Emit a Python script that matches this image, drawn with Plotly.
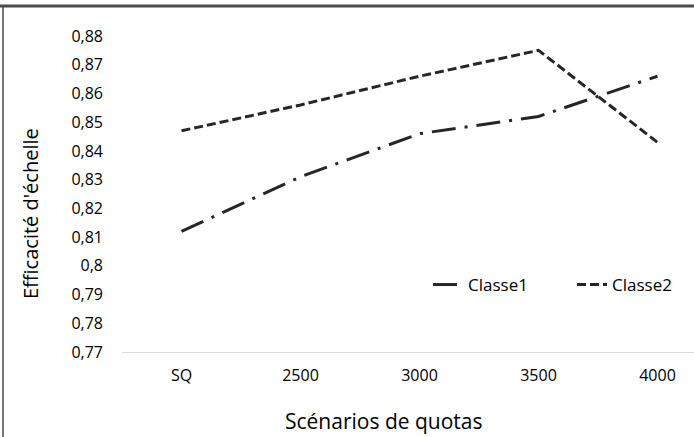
import plotly.graph_objects as go

categories = ["SQ", "2500", "3000", "3500", "4000"]
classe1 = [0.812, 0.831, 0.846, 0.852, 0.866]
classe2 = [0.847, 0.856, 0.866, 0.875, 0.843]
y_ticks = [0.77, 0.78, 0.79, 0.80, 0.81, 0.82, 0.83, 0.84, 0.85, 0.86, 0.87, 0.88]
y_tick_text = ["0,77", "0,78", "0,79", "0,8", "0,81", "0,82", "0,83", "0,84", "0,85", "0,86", "0,87", "0,88"]

W, H = 694, 437
L, R, T, B = 122, 0, 36, 85
FONT = "Open Sans"
LINE = "#262626"

pw = W - L - R
ph = H - T - B
def px(x):
    return (x - L) / pw
def py(y):
    return (H - B - y) / ph

fig = go.Figure()
fig.add_trace(go.Scatter(x=categories, y=classe1, mode="lines", name="Classe1", legend="legend",
                         line=dict(color=LINE, width=3, dash="24px,9px,3px,9px")))
fig.add_trace(go.Scatter(x=categories, y=classe2, mode="lines", name="Classe2", legend="legend2",
                         line=dict(color=LINE, width=3, dash="9px,4px")))

leg_common = dict(orientation="h", yanchor="middle", xanchor="left",
                  font=dict(size=17, family=FONT, color="#000"), bgcolor="rgba(0,0,0,0)",
                  itemwidth=30)

fig.update_layout(
    width=W, height=H,
    margin=dict(l=L, r=R, t=T, b=B, pad=0),
    paper_bgcolor="white", plot_bgcolor="white",
    font=dict(family=FONT, color="#000000", size=16),
    showlegend=True,
    legend=dict(x=px(428), y=py(285), **leg_common),
    legend2=dict(x=px(572), y=py(285), **leg_common),
    xaxis=dict(type="category", range=[-0.5, -0.5 + pw / 119.0], showgrid=False,
               showline=True, linecolor="#d9d9d9", linewidth=1, ticks="",
               tickfont=dict(size=16, family=FONT, color="#000"), ticklabelstandoff=9,
               zeroline=False),
    yaxis=dict(range=[0.77, 0.88], tickvals=y_ticks, ticktext=y_tick_text, showgrid=False,
               showline=False, ticks="", zeroline=False,
               tickfont=dict(size=16, family=FONT, color="#000"), ticklabelstandoff=18),
    shapes=[
        dict(type="line", xref="paper", yref="paper", x0=px(0), x1=px(W), y0=py(6), y1=py(6),
             line=dict(color="#4a4a4a", width=3)),
        dict(type="line", xref="paper", yref="paper", x0=px(3), x1=px(3), y0=py(6), y1=py(H),
             line=dict(color="#4a4a4a", width=1.5)),
    ],
    annotations=[
        dict(text="Scénarios de quotas", xref="paper", yref="paper", x=px(384), y=py(421),
             xanchor="center", yanchor="middle", showarrow=False,
             font=dict(size=21, family=FONT, color="#000")),
        dict(text="Efficacité d'échelle", xref="paper", yref="paper", x=px(30), y=py(214),
             xanchor="center", yanchor="middle", showarrow=False, textangle=-90,
             font=dict(size=20, family=FONT, color="#000")),
    ],
)

fig.write_html("out.html", config={"displayModeBar": False},
               post_script="document.body.style.margin='0';document.body.style.overflow='hidden';")
